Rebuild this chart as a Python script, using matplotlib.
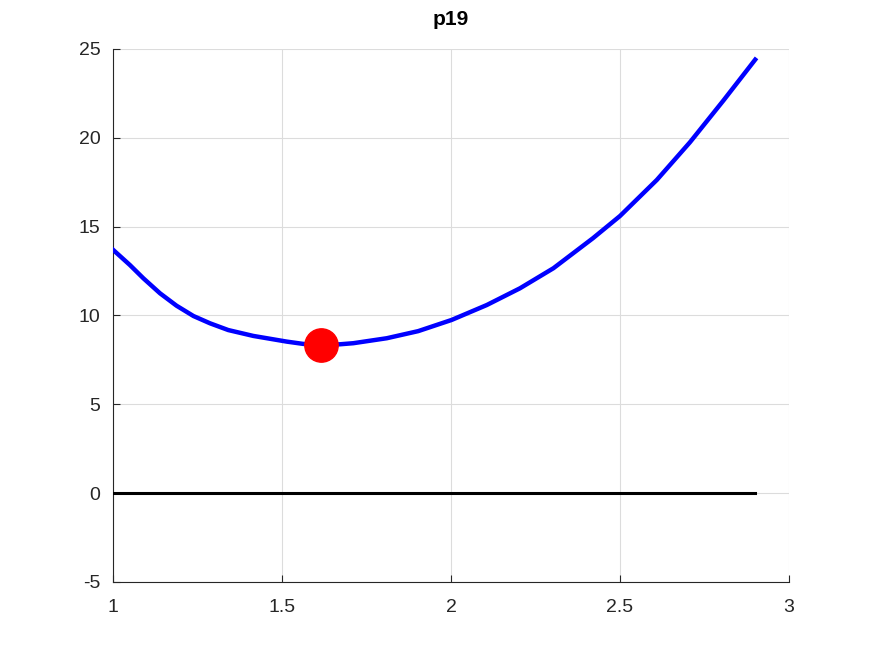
import matplotlib
matplotlib.use("Agg")
import matplotlib.pyplot as plt

# ================= data =================
x_curve = [1.0, 1.05, 1.09, 1.139, 1.188, 1.238, 1.287, 1.341, 1.415, 1.514,
           1.563, 1.614, 1.672, 1.711, 1.81, 1.903, 2.002, 2.106, 2.204, 2.303,
           2.42, 2.5, 2.609, 2.707, 2.806, 2.9]
y_curve = [13.7, 12.84, 12.09, 11.25, 10.55, 9.97, 9.56, 9.18, 8.85, 8.53,
           8.40, 8.34, 8.38, 8.44, 8.72, 9.12, 9.75, 10.59, 11.53, 12.66,
           14.35, 15.6, 17.63, 19.75, 22.1, 24.4]
x_zero = [1.0, 2.9]
y_zero = [0.0, 0.0]
x_min = [1.614]
y_min = [8.34]

xticks = [1, 1.5, 2, 2.5, 3]
xlabels = ['1', '1.5', '2', '2.5', '3']
yticks = [-5, 0, 5, 10, 15, 20, 25]
ylabels = ['-5', '0', '5', '10', '15', '20', '25']

plt.rcParams['font.family'] = ['Liberation Sans', 'DejaVu Sans']

fig = plt.figure(figsize=(8.72, 6.54), dpi=100)
ax = fig.add_axes([0.1296, 0.1101, 0.7752, 0.815])

ax.plot(x_curve, y_curve, color='#0000ff', linewidth=3.2, solid_joinstyle='round', zorder=3)
ax.plot(x_zero, y_zero, color='black', linewidth=2.2, zorder=3)
ax.plot(x_min, y_min, 'o', color='red', markersize=24, zorder=4)

ax.set_xlim(1, 3)
ax.set_ylim(-5, 25)
ax.set_xticks(xticks)
ax.set_xticklabels(xlabels)
ax.set_yticks(yticks)
ax.set_yticklabels(ylabels)
ax.grid(True, color='#dcdcdc', linewidth=0.8)
ax.set_axisbelow(True)
ax.spines['top'].set_visible(False)
ax.spines['right'].set_visible(False)
ax.spines['left'].set_color('#262626')
ax.spines['bottom'].set_color('#262626')
ax.tick_params(direction='in', length=5, labelsize=14, colors='#262626')
ax.tick_params(axis='x', pad=12)
ax.tick_params(axis='y', pad=9)

ax.set_title('p19', fontsize=15, fontweight='bold', pad=17)

fig.savefig('out.png', dpi=100)
